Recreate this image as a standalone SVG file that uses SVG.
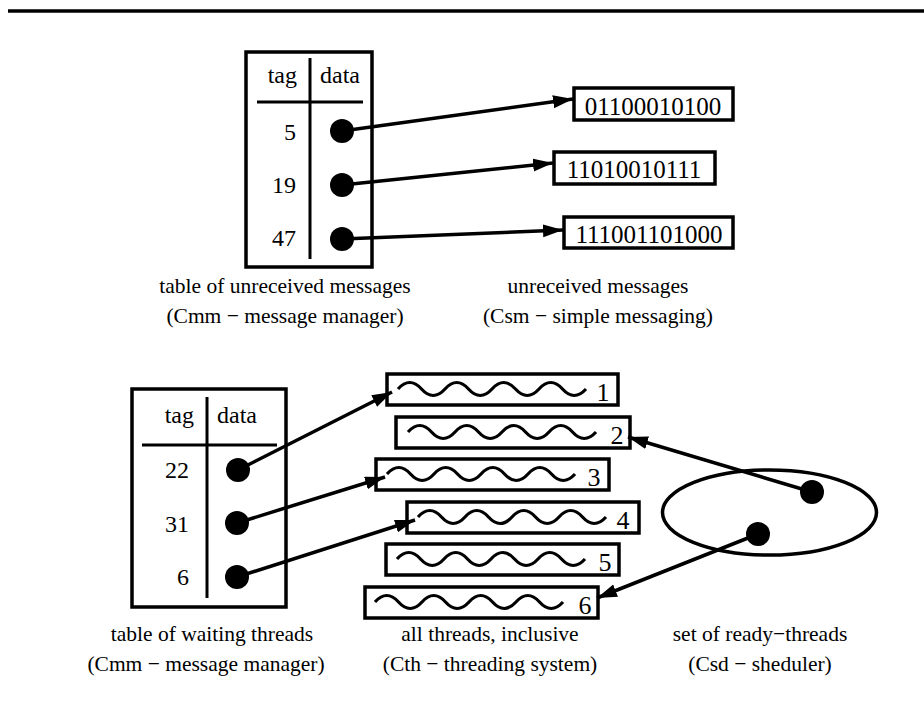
<svg xmlns="http://www.w3.org/2000/svg" width="924" height="724" viewBox="0 0 924 724">
<defs>
<marker id="ah" markerUnits="userSpaceOnUse" markerWidth="22" markerHeight="14" refX="20" refY="6.5" orient="auto">
<path d="M0,0 L20,6.5 L0,13 z" fill="#000"/>
</marker>
<path id="wave" d="M0,0 q11.75,-13 23.5,0 t23.5,0 t23.5,0 t23.5,0 t23.5,0 t23.5,0 t23.5,0 t23.5,0" fill="none" stroke="#000" stroke-width="3.2"/>
</defs>
<style>
text{font-family:"Liberation Serif","Times New Roman",serif;fill:#000}
.t{font-size:24px}
.m{font-size:25px}
.n{font-size:26px}
.l{font-size:21.5px}
.box{fill:#fff;stroke:#000;stroke-width:3.5}
.ln{stroke:#000;stroke-width:3;fill:none}
.c{stroke:#000;stroke-width:3.5;fill:none;marker-end:url(#ah)}
.p{stroke:#000;stroke-width:3.5;fill:none}
</style>
<rect width="924" height="724" fill="#fff"/>
<line x1="8" y1="11" x2="924" y2="11" stroke="#000" stroke-width="3.5"/>

<g id="table-unreceived">
<rect class="box" x="246" y="52" width="126" height="215"/>
<line class="ln" x1="310" y1="58" x2="310" y2="259"/>
<line class="ln" x1="257" y1="102" x2="363" y2="102"/>
<text class="t" x="297" y="83" text-anchor="end">tag</text>
<text class="t" x="320" y="83">data</text>
<text class="t" x="296" y="140" text-anchor="end">5</text>
<text class="t" x="296" y="193" text-anchor="end">19</text>
<text class="t" x="296" y="246" text-anchor="end">47</text>
<circle cx="342" cy="131" r="12"/>
<circle cx="342" cy="185" r="12"/>
<circle cx="342" cy="239" r="12"/>
<text class="l" x="285" y="293" text-anchor="middle">table of unreceived messages</text>
<text class="l" x="285" y="323" text-anchor="middle">(Cmm − message manager)</text>
</g>

<g id="msg1">
<rect class="box" x="574" y="88" width="159" height="32"/>
<text class="m" x="653" y="115" text-anchor="middle">01100010100</text>
</g>
<g id="msg2">
<rect class="box" x="554" y="152" width="161" height="32"/>
<text class="m" x="634" y="178" text-anchor="middle">11010010111</text>
</g>
<g id="msg3">
<rect class="box" x="564" y="217" width="169" height="31"/>
<text class="m" x="649" y="243" text-anchor="middle">111001101000</text>
</g>
<g id="msg-label">
<text class="l" x="598" y="293" text-anchor="middle">unreceived messages</text>
<text class="l" x="598" y="323" text-anchor="middle">(Csm − simple messaging)</text>
</g>

<g id="table-waiting">
<rect class="box" x="132" y="389" width="154" height="218"/>
<line class="ln" x1="207" y1="397" x2="207" y2="598"/>
<line class="ln" x1="142" y1="445" x2="277" y2="445"/>
<text class="t" x="194" y="423" text-anchor="end">tag</text>
<text class="t" x="217" y="423">data</text>
<text class="t" x="189" y="478" text-anchor="end">22</text>
<text class="t" x="189" y="532" text-anchor="end">31</text>
<text class="t" x="189" y="585" text-anchor="end">6</text>
<circle cx="238" cy="470" r="12"/>
<circle cx="237" cy="523" r="12"/>
<circle cx="237" cy="577" r="12"/>
<text class="l" x="212" y="641" text-anchor="middle">table of waiting threads</text>
<text class="l" x="206" y="671" text-anchor="middle">(Cmm − message manager)</text>
</g>

<g id="thread1">
<rect class="box" x="387" y="374" width="231" height="31"/>
<use href="#wave" x="398" y="389"/>
<text class="n" x="603" y="401" text-anchor="middle">1</text>
</g>
<g id="thread2">
<rect class="box" x="396" y="417" width="234" height="31"/>
<use href="#wave" x="408" y="432"/>
<text class="n" x="617" y="444" text-anchor="middle">2</text>
</g>
<g id="thread3">
<rect class="box" x="376" y="459" width="233" height="31"/>
<use href="#wave" x="387" y="474"/>
<text class="n" x="594" y="486" text-anchor="middle">3</text>
</g>
<g id="thread4">
<rect class="box" x="407" y="502" width="232" height="31"/>
<use href="#wave" x="418" y="517"/>
<text class="n" x="623" y="529" text-anchor="middle">4</text>
</g>
<g id="thread5">
<rect class="box" x="386" y="544" width="233" height="31"/>
<use href="#wave" x="397" y="559"/>
<text class="n" x="605" y="571" text-anchor="middle">5</text>
</g>
<g id="thread6">
<rect class="box" x="365" y="587" width="233" height="31"/>
<use href="#wave" x="375" y="602"/>
<text class="n" x="585" y="614" text-anchor="middle">6</text>
</g>
<g id="threads-label">
<text class="l" x="490" y="641" text-anchor="middle">all threads, inclusive</text>
<text class="l" x="490" y="671" text-anchor="middle">(Cth − threading system)</text>
</g>

<g id="ready-set">
<ellipse class="p" cx="769.5" cy="512.5" rx="107" ry="42.5"/>
<circle cx="812" cy="492" r="12"/>
<circle cx="758" cy="534" r="12"/>
<text class="l" x="760" y="641" text-anchor="middle">set of ready−threads</text>
<text class="l" x="760" y="671" text-anchor="middle">(Csd − sheduler)</text>
</g>

<g id="connectors">
<line class="c" x1="342" y1="131" x2="573" y2="99"/>
<line class="c" x1="342" y1="185" x2="553" y2="163"/>
<line class="c" x1="342" y1="239" x2="563" y2="230"/>
<line class="c" x1="238" y1="470" x2="392" y2="392"/>
<line class="c" x1="237" y1="523" x2="385" y2="477"/>
<line class="c" x1="237" y1="577" x2="415" y2="520"/>
<line class="c" x1="812" y1="492" x2="628" y2="437"/>
<line class="c" x1="758" y1="534" x2="597" y2="598"/>
</g>
</svg>
